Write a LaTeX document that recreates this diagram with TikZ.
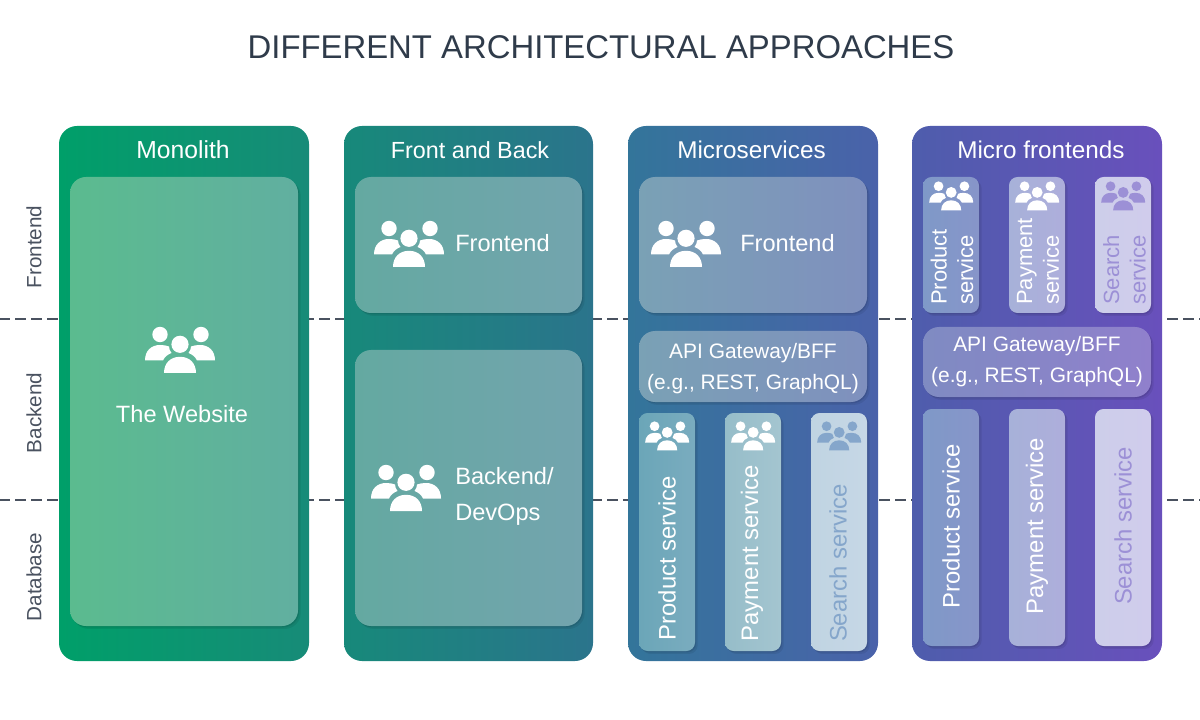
\documentclass[tikz,border=0pt]{standalone}
\usepackage{fontspec}
\setmainfont{Liberation Sans}
\usetikzlibrary{positioning,shadows}

\def\px{.75pt}
\definecolor{titlegrey}{HTML}{2F3B4A}
\definecolor{sidegrey}{HTML}{4A5260}
% Panels
\definecolor{monoL}{HTML}{009F69}
\definecolor{monoR}{HTML}{178B78}
\definecolor{fbL}{HTML}{17897A}
\definecolor{fbR}{HTML}{2B748C}
\definecolor{microL}{HTML}{33759A}
\definecolor{microR}{HTML}{4A62AA}
\definecolor{frontL}{HTML}{4E5DAC}
\definecolor{frontR}{HTML}{6950BC}
% Inner boxes
\definecolor{siteL}{HTML}{5BBB8F}
\definecolor{siteR}{HTML}{61AFA0}
\definecolor{fbBoxL}{HTML}{64A9A1}
\definecolor{fbBoxR}{HTML}{73A4AE}
\definecolor{msBoxL}{HTML}{7AA1B5}
\definecolor{msBoxR}{HTML}{7F90BE}
\definecolor{apiL}{HTML}{7F8BC2}
\definecolor{apiR}{HTML}{9080CC}
\definecolor{msPL}{HTML}{6BA6B8}
\definecolor{msPR}{HTML}{7AACBF}
\definecolor{msYL}{HTML}{96BDC9}
\definecolor{msYR}{HTML}{A4C5D0}
\definecolor{msSL}{HTML}{C0D4E2}
\definecolor{msSR}{HTML}{C6D7E6}
\definecolor{mfPL}{HTML}{7F99C8}
\definecolor{mfPR}{HTML}{8795C9}
\definecolor{mfYL}{HTML}{A7B1D9}
\definecolor{mfYR}{HTML}{AEAEDB}
\definecolor{mfSL}{HTML}{CDCEEA}
\definecolor{mfSR}{HTML}{D0CCEC}
\definecolor{searchblue}{HTML}{85A6CB}
\definecolor{searchviolet}{HTML}{9C90D6}

\tikzset{
    panelbox/.style n args={4}{rounded corners=13.5pt,inner sep=0pt,
        left color=#1,right color=#2,
        minimum width=#3*\px,minimum height=#4*\px},
    softshade/.style={
        drop shadow={shadow xshift=2pt,shadow yshift=-2.2pt,opacity=.07,fill=black},
        drop shadow={shadow xshift=.8pt,shadow yshift=-1pt,opacity=.09,fill=black}},
    softbox/.style n args={4}{softshade,panelbox={#1}{#2}{#3}{#4},rounded corners=12pt},
    slimbox/.style n args={4}{softshade,panelbox={#1}{#2}{#3}{#4},rounded corners=6.5pt},
    labeltxt/.style={text=white,inner sep=0pt,align=center,
        font=\fontsize{18}{20}\selectfont},
    labelsmall/.style={labeltxt,font=\fontsize{17.7}{20}\selectfont},
    apitxt/.style={labeltxt,font=\fontsize{15.7}{23.2}\selectfont},
    servicetxt/.style={labeltxt,rotate=90,font=\fontsize{17.9}{20}\selectfont},
    stacktxt/.style={labeltxt,rotate=90,anchor=west,align=left,
        font=\fontsize{16.5}{20}\selectfont},
    sidetxt/.style={text=sidegrey,inner sep=0pt,rotate=90,
        font=\fontsize{15.5}{18}\selectfont},
    sepline/.style={sidegrey,line width=1.5pt,dash pattern=on 7.9pt off 4.1pt,dash phase=.75pt},
    people/.pic={
        \path[pic actions] (-20.5,-15.5) circle (7.7);
        \path[pic actions] (20.5,-15.5) circle (7.7);
        \path[pic actions] (-.5,-5.7) circle (8.6);
        \path[pic actions] (-16.5,23) .. controls (-16.5,13) and (-10,6.8) .. (-.5,6.8)
            .. controls (9,6.8) and (15.5,13) .. (15.5,23) -- cycle;
        \path[pic actions] (-35.5,10.5) .. controls (-35.5,.5) and (-29,-5) .. (-20.5,-5)
            .. controls (-17,-5) and (-14,-4.5) .. (-11.5,-3.5)
            .. controls (-11.5,-1) and (-10.5,1) .. (-9,3)
            .. controls (-13,4.5) and (-16,7) .. (-17.5,10.5) -- cycle;
        \path[pic actions] (34.5,10.5) .. controls (34.5,.5) and (28,-5) .. (19.5,-5)
            .. controls (16,-5) and (13,-4.5) .. (10.5,-3.5)
            .. controls (10.5,-1) and (9.5,1) .. (8,3)
            .. controls (12,4.5) and (15,7) .. (16.5,10.5) -- cycle;
    }
}

\begin{document}
\begin{tikzpicture}[x=.75pt,y=-.75pt]
    \useasboundingbox (0,0) rectangle (1200,720);

    \node[text=titlegrey,inner sep=0pt,font=\fontsize{24.65}{30}\selectfont] (title) at (601,47)
        {DIFFERENT ARCHITECTURAL APPROACHES};

    % Layer separators
    \coordinate (upperL) at (0,319.5);
    \coordinate (upperR) at (1200,319.5);
    \coordinate (lowerL) at (0,500);
    \coordinate (lowerR) at (1200,500);
    \draw[sepline] (upperL) -- (upperR);
    \draw[sepline] (lowerL) -- (lowerR);

    \node[sidetxt] (sideF) at (34,247) {Frontend};
    \node[sidetxt] (sideB) at (34,413) {Backend};
    \node[sidetxt] (sideD) at (34,577) {Database};

    % Panels
    \node[panelbox={monoL}{monoR}{250}{535}] (mono) at (184,393.5) {};
    \node[panelbox={fbL}{fbR}{249}{535}] (fb) at (468.5,393.5) {};
    \node[panelbox={microL}{microR}{250}{535}] (micro) at (753,393.5) {};
    \node[panelbox={frontL}{frontR}{250}{535}] (front) at (1037,393.5) {};

    \node[labeltxt,font=\fontsize{18.5}{20}\selectfont] (monoT) at (183,150) {Monolith};
    \node[labelsmall,font=\fontsize{17.5}{20}\selectfont] (fbT) at (470,150) {Front and Back};
    \node[labeltxt,font=\fontsize{18.2}{20}\selectfont] (microT) at (751.5,150) {Microservices};
    \node[labeltxt,font=\fontsize{18.2}{20}\selectfont] (frontT) at (1041,150) {Micro frontends};

    % Monolith
    \node[softbox={siteL}{siteR}{228}{449}] (site) at (184,401.5) {};

    % Front and Back
    \node[softbox={fbBoxL}{fbBoxR}{227}{136}] (fbF) at (468.5,245) {};
    \node[softbox={fbBoxL}{fbBoxR}{227}{276}] (fbB) at (468.5,488) {};

    % Microservices
    \node[softbox={msBoxL}{msBoxR}{228}{136}] (msF) at (753,245) {};
    \node[softbox={msBoxL}{msBoxR}{228}{71}] (msA) at (753,366.5) {};
    \node[slimbox={msPL}{msPR}{56}{238}] (msP) at (667,532) {};
    \node[slimbox={msYL}{msYR}{56}{238}] (msY) at (753,532) {};
    \node[slimbox={msSL}{msSR}{56}{238}] (msS) at (839,532) {};

    % Micro frontends
    \node[slimbox={mfPL}{mfPR}{56}{136}] (mfP) at (951,245) {};
    \node[slimbox={mfYL}{mfYR}{56}{136}] (mfY) at (1037,245) {};
    \node[slimbox={mfSL}{mfSR}{56}{136}] (mfS) at (1123,245) {};
    \node[softbox={apiL}{apiR}{228}{70}] (mfA) at (1037,362) {};
    \node[slimbox={mfPL}{mfPR}{56}{237}] (mfP2) at (951,527.5) {};
    \node[slimbox={mfYL}{mfYR}{56}{237}] (mfY2) at (1037,527.5) {};
    \node[slimbox={mfSL}{mfSR}{56}{237}] (mfS2) at (1123,527.5) {};

    % Icons
    \pic[fill=white] (siteI) at (180.5,350) {people};
    \pic[fill=white] (fbFI) at (409.5,244) {people};
    \pic[fill=white] (fbBI) at (406.5,488) {people};
    \pic[fill=white] (msFI) at (686.5,244) {people};
    \pic[fill=white,scale=.63] (msPI) at (667.5,436) {people};
    \pic[fill=white,scale=.63] (msYI) at (753.5,436) {people};
    \pic[fill=searchblue,scale=.63] (msSI) at (839.5,436) {people};
    \pic[fill=white,scale=.63] (mfPI) at (951.5,196) {people};
    \pic[fill=white,scale=.63] (mfYI) at (1037.5,196) {people};
    \pic[fill=searchviolet,scale=.63] (mfSI) at (1123.5,196) {people};

    % Labels
    \node[labelsmall] (siteT) at (182,414) {The Website};
    \node[labelsmall,anchor=west] (fbFT) at (455,243) {Frontend};
    \node[labelsmall,anchor=west,align=left,font=\fontsize{17.7}{27}\selectfont] (fbBT) at (455,496) {Backend/\\DevOps};
    \node[labelsmall,anchor=west] (msFT) at (740,243) {Frontend};
    \node[apitxt] (msAT) at (753,369) {API Gateway/BFF\\(e.g., REST, GraphQL)};
    \node[apitxt] (mfAT) at (1037,361.5) {API Gateway/BFF\\(e.g., REST, GraphQL)};

    \node[servicetxt] (msPT) at (667,558) {Product service};
    \node[servicetxt] (msYT) at (752,553) {Payment service};
    \node[servicetxt,text=searchblue] (msST) at (838,563) {Search service};
    \node[servicetxt] (mfP2T) at (951,526) {Product service};
    \node[servicetxt] (mfY2T) at (1037,526) {Payment service};
    \node[servicetxt,text=searchviolet] (mfS2T) at (1123,526) {Search service};

    \node[stacktxt] (mfPT) at (952,305) {Product\\service};
    \node[stacktxt] (mfYT) at (1038,305) {Payment\\service};
    \node[stacktxt,text=searchviolet] (mfST) at (1124.5,305) {Search\\service};
\end{tikzpicture}
\end{document}
